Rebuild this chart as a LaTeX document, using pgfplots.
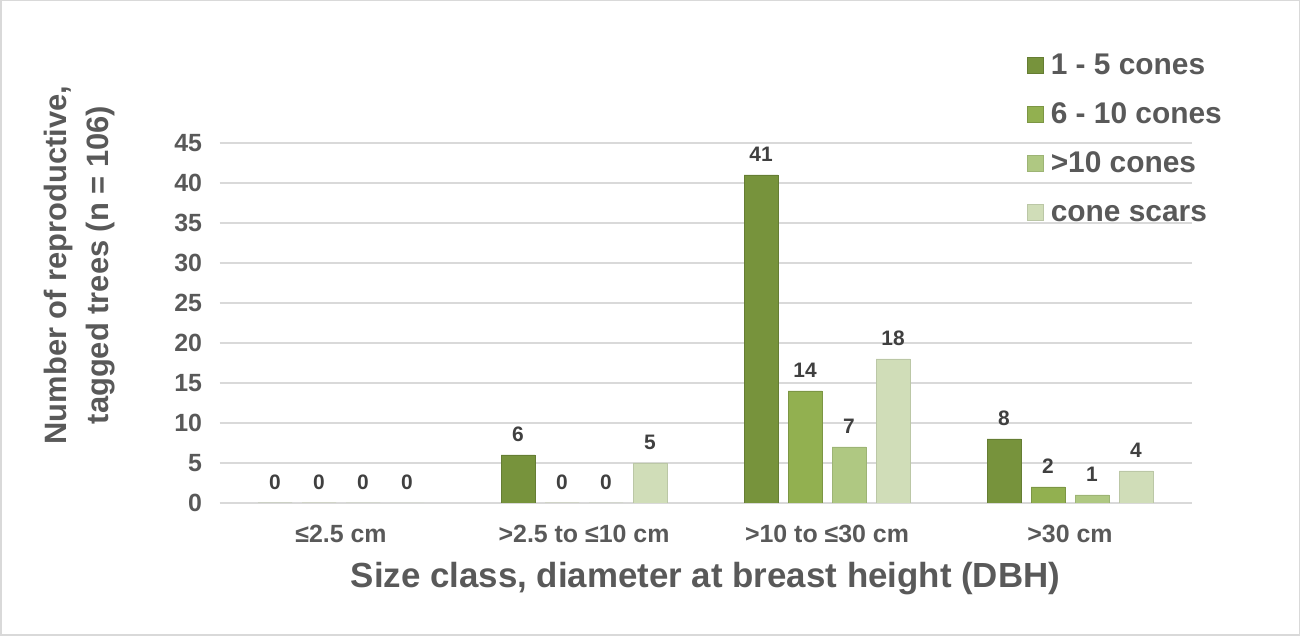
\documentclass[border=0pt]{standalone}
\usepackage{fontspec}
\setmainfont{Liberation Sans}
\usepackage{pgfplots}
\pgfplotsset{compat=1.18}
\definecolor{cA}{RGB}{119,147,60}
\definecolor{cB}{RGB}{146,176,80}
\definecolor{cC}{RGB}{175,200,130}
\definecolor{cD}{RGB}{208,221,184}
\definecolor{txt}{RGB}{89,89,89}
\definecolor{lab}{RGB}{64,64,64}
\definecolor{gridc}{RGB}{217,217,217}
\definecolor{frame}{RGB}{217,217,217}
\newcommand{\fs}[1]{\fontsize{#1}{#1}\selectfont}
\begin{document}
\begin{tikzpicture}[x=1bp,y=1bp]
\draw[frame, line width=1.5bp] (0.75,0.75) rectangle (1299.25,635.25);
\begin{axis}[
  at={(219.5bp,133bp)}, anchor=south west,
  width=972bp, height=360bp, scale only axis,
  xmin=-0.5, xmax=3.5, ymin=0, ymax=45,
  ytick={0,5,...,45},
  xtick={0,1,2,3},
  xticklabels={{≤2.5 cm},{>2.5 to ≤10 cm},{>10 to ≤30 cm},{>30 cm}},
  /pgf/number format/assume math mode=true,
  ymajorgrids, grid style={gridc, line width=1.3bp},
  axis line style={draw=none}, major tick length=0pt,
  ticklabel style={font=\bfseries\fs{25}, text=txt},
  yticklabel style={xshift=-14bp},
  xticklabel style={anchor=base, yshift=-40bp},
  xlabel={Size class, diameter at breast height (DBH)},
  xlabel style={font=\bfseries\fs{35}, text=txt, at={(axis description cs:0.5,0)}, anchor=base, yshift=-85bp},
  ylabel={Number of reproductive,\\tagged trees (n = 106)},
  ylabel style={font=\bfseries\fontsize{31}{43}\selectfont, text=txt, align=center, at={(axis description cs:-0.1440,0.661)}, anchor=center, rotate=0},
  ybar=10bp, bar width=34bp,
  nodes near coords,
  nodes near coords style={font=\bfseries\fs{21}, text=lab, inner sep=0pt, anchor=base, yshift=13bp},
  legend style={at={(axis description cs:0.8308,1.253)}, anchor=north west, draw=none, fill=none,
    inner sep=0pt, row sep=21bp, font=\bfseries\fs{30}, text=txt,
    nodes={inner ysep=0pt, inner xsep=7bp, text height=22bp, text depth=6bp}},
  legend cell align=left,
  legend image code/.code={\fill[#1] (0bp,-7bp) rectangle (16bp,9bp);},
]
\addplot[fill=cA, draw=cA!85!black, line width=0.5bp] coordinates {(0,0) (1,6) (2,41) (3,8)};
\addplot[fill=cB, draw=cB!85!black, line width=0.5bp] coordinates {(0,0) (1,0) (2,14) (3,2)};
\addplot[fill=cC, draw=cC!90!black, line width=0.5bp] coordinates {(0,0) (1,0) (2,7) (3,1)};
\addplot[fill=cD, draw=cD!90!black, line width=0.5bp] coordinates {(0,0) (1,5) (2,18) (3,4)};
\legend{1 - 5 cones, 6 - 10 cones, >10 cones, cone scars}
\end{axis}
\end{tikzpicture}
\end{document}
